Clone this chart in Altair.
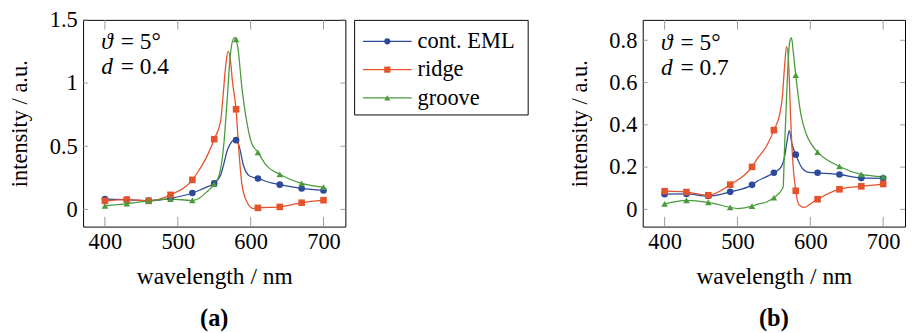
import altair as alt
import pandas as pd

SERIES = ["cont. EML", "ridge", "groove"]
COLORS = ["#2d4a9a", "#e4532b", "#4b9a3b"]
SHAPES = ["circle", "square", "triangle-up"]

# marker wavelengths (nm)
MARK_WL = [400, 430, 460, 490, 520, 550, 580, 610, 640, 670, 700]

# ---------- panel (a): d = 0.4 ----------
A_EML_MARK = [0.082, 0.077, 0.070, 0.088, 0.130, 0.206, 0.548, 0.245, 0.196, 0.166, 0.150]
A_RIDGE_MARK = [0.068, 0.078, 0.068, 0.115, 0.234, 0.556, 0.793, 0.012, 0.020, 0.053, 0.073]
A_GROOVE_MARK = [0.028, 0.045, 0.068, 0.082, 0.071, 0.200, 1.345, 0.452, 0.278, 0.206, 0.176]

A_EML_WL = [400, 430, 460, 490, 520, 528, 540, 550, 559, 565, 568, 572, 578, 584, 590, 599, 610, 625, 640, 670, 700]
A_EML_VAL = [0.082, 0.077, 0.070, 0.088, 0.130, 0.148, 0.178, 0.206, 0.275, 0.403, 0.47, 0.518, 0.552, 0.505, 0.352, 0.262, 0.245, 0.215, 0.196, 0.166, 0.150]
A_RIDGE_WL = [400, 430, 460, 490, 520, 528, 540, 550, 559, 562, 566, 569, 572, 575, 580, 584, 588, 595, 603, 610, 640, 670, 700]
A_RIDGE_VAL = [0.068, 0.078, 0.068, 0.115, 0.234, 0.300, 0.420, 0.556, 0.709, 0.888, 1.150, 1.250, 1.194, 1.015, 0.790, 0.454, 0.200, 0.058, 0.008, 0.012, 0.020, 0.053, 0.073]
A_GROOVE_WL = [400, 430, 460, 490, 520, 528, 539, 550, 557, 563, 568, 572, 577.5, 582, 588, 595, 601, 610, 621, 640, 670, 700]
A_GROOVE_VAL = [0.028, 0.045, 0.068, 0.082, 0.071, 0.084, 0.135, 0.200, 0.275, 0.505, 0.888, 1.219, 1.360, 1.296, 0.964, 0.683, 0.530, 0.452, 0.352, 0.278, 0.206, 0.176]

# ---------- panel (b): d = 0.7 ----------
B_EML_MARK = [0.072, 0.073, 0.063, 0.083, 0.116, 0.173, 0.259, 0.173, 0.165, 0.149, 0.147]
B_RIDGE_MARK = [0.086, 0.082, 0.067, 0.117, 0.201, 0.375, 0.088, 0.048, 0.095, 0.109, 0.120]
B_GROOVE_MARK = [0.026, 0.043, 0.033, 0.010, 0.015, 0.055, 0.635, 0.271, 0.203, 0.166, 0.155]

B_EML_WL = [400, 430, 460, 490, 520, 527, 540, 550, 560, 565, 568, 571, 575, 580, 589, 598, 610, 640, 670, 700]
B_EML_VAL = [0.072, 0.073, 0.063, 0.083, 0.116, 0.133, 0.155, 0.173, 0.201, 0.255, 0.320, 0.373, 0.307, 0.259, 0.194, 0.175, 0.173, 0.165, 0.149, 0.147]
B_RIDGE_WL = [400, 430, 460, 490, 520, 527, 540, 550, 558, 561.5, 564.7, 567.4, 570, 572.8, 576, 580, 584.8, 591.5, 600.5, 610, 640, 670, 700]
B_RIDGE_VAL = [0.086, 0.082, 0.067, 0.117, 0.201, 0.239, 0.300, 0.375, 0.451, 0.527, 0.679, 0.770, 0.709, 0.451, 0.224, 0.088, 0.020, 0.009, 0.027, 0.048, 0.095, 0.109, 0.120]
B_GROOVE_WL = [400, 430, 460, 490, 500, 520, 527, 540, 550, 562.6, 564.7, 568.3, 571.4, 574.1, 576.8, 580, 587, 594, 603, 610, 640, 670, 700]
B_GROOVE_VAL = [0.026, 0.043, 0.033, 0.010, 0.004, 0.015, 0.024, 0.035, 0.055, 0.103, 0.300, 0.603, 0.785, 0.812, 0.739, 0.635, 0.451, 0.360, 0.300, 0.271, 0.203, 0.166, 0.155]

X_DOMAIN = [370, 730]
X_TICKS = [400, 500, 600, 700]
A_Y_DOMAIN = [-0.136, 1.5]
A_Y_TICKS = [0, 0.5, 1, 1.5]
B_Y_DOMAIN = [-0.0815, 0.8965]
B_Y_TICKS = [0, 0.2, 0.4, 0.6, 0.8]

A_ANNOT = {"wl": 395, "theta_val": 1.27, "d_val": 1.075, "theta": "= 5°", "d": "= 0.4"}
B_ANNOT = {"wl": 395, "theta_val": 0.755, "d_val": 0.637, "theta": "= 5°", "d": "= 0.7"}

FONT = "Liberation Serif, Times New Roman, DejaVu Serif, serif"
W, H = 269, 212
LEG_W, LEG_H = 178, 97


def lines_df(wls, vals):
    rows = []
    for s, w, v in zip(SERIES, wls, vals):
        for a, b in zip(w, v):
            rows.append({"wl": a, "val": b, "series": s})
    return pd.DataFrame(rows)


def marks_df(vals):
    rows = []
    for s, v in zip(SERIES, vals):
        for a, b in zip(MARK_WL, v):
            rows.append({"wl": a, "val": b, "series": s})
    return pd.DataFrame(rows)


CS = alt.Scale(domain=SERIES, range=COLORS)
SS = alt.Scale(domain=SERIES, range=SHAPES)


def panel(ldf, mdf, ydom, yticks, ann, label):
    xs = alt.Scale(domain=X_DOMAIN, nice=False, zero=False)
    ys = alt.Scale(domain=ydom, nice=False, zero=False)
    xaxis = alt.Axis(values=X_TICKS, format="d", ticks=False, domain=False, grid=False,
                     labelFont=FONT, labelFontSize=23, labelColor="black", labelPadding=4,
                     title="wavelength / nm", titleFont=FONT, titleFontSize=24,
                     titleFontWeight="normal", titleColor="black", titlePadding=12)
    yaxis = alt.Axis(values=yticks, format="~r", ticks=False, domain=False, grid=False,
                     labelFont=FONT, labelFontSize=23, labelColor="black", labelPadding=6,
                     title="intensity / a.u.", titleFont=FONT, titleFontSize=23,
                     titleFontWeight="normal", titleColor="black", titlePadding=18)
    lines = alt.Chart(ldf).mark_line(interpolate="monotone", strokeWidth=1.3).encode(
        x=alt.X("wl:Q", scale=xs, axis=xaxis),
        y=alt.Y("val:Q", scale=ys, axis=yaxis),
        color=alt.Color("series:N", scale=CS, legend=None, sort=SERIES),
    )
    pts = alt.Chart(mdf).mark_point(filled=True, opacity=1, size=46).encode(
        x=alt.X("wl:Q"),
        y=alt.Y("val:Q"),
        color=alt.Color("series:N", scale=CS, legend=None),
        shape=alt.Shape("series:N", scale=SS, legend=None),
    )
    xt = pd.DataFrame({"wl": X_TICKS})
    yt = pd.DataFrame({"val": yticks})
    tick_color = "#9a9a9a"
    tb = alt.Chart(xt).mark_rule(color=tick_color, strokeWidth=1).encode(
        x="wl:Q", y=alt.value(H), y2=alt.value(H - 10))
    tt = alt.Chart(xt).mark_rule(color=tick_color, strokeWidth=1).encode(
        x="wl:Q", y=alt.value(0), y2=alt.value(10))
    tl = alt.Chart(yt).mark_rule(color=tick_color, strokeWidth=1).encode(
        y="val:Q", x=alt.value(0), x2=alt.value(5))
    tr = alt.Chart(yt).mark_rule(color=tick_color, strokeWidth=1).encode(
        y="val:Q", x=alt.value(W), x2=alt.value(W - 5))
    adf = pd.DataFrame([
        {"wl": ann["wl"], "val": ann["theta_val"], "sym": "ϑ", "rest": ann["theta"]},
        {"wl": ann["wl"], "val": ann["d_val"], "sym": "d", "rest": ann["d"]},
    ])
    a1 = alt.Chart(adf).mark_text(font=FONT, fontSize=24, fontStyle="italic", align="left",
                                  baseline="alphabetic", color="black").encode(
        x="wl:Q", y="val:Q", text="sym:N")
    a2 = alt.Chart(adf).mark_text(font=FONT, fontSize=24, align="left", dx=20,
                                  baseline="alphabetic", color="black").encode(
        x="wl:Q", y="val:Q", text="rest:N")
    return alt.layer(lines, pts, tb, tt, tl, tr, a1, a2).properties(
        width=W, height=H,
        title=alt.TitleParams(label, orient="bottom", font=FONT, fontSize=25,
                              fontWeight="bold", color="black", offset=19),
    )


# legend as its own small view
ldat = pd.DataFrame({"series": SERIES})
LY = alt.Y("series:N", scale=alt.Scale(type="point", domain=SERIES, range=[22, 80], padding=0), axis=None)
leg_line = alt.Chart(ldat).mark_rule(strokeWidth=1.3).encode(
    x=alt.value(9), x2=alt.value(59), y=LY,
    color=alt.Color("series:N", scale=CS, legend=None))
leg_pt = alt.Chart(ldat).mark_point(filled=True, opacity=1, size=40).encode(
    x=alt.value(34), y=LY,
    color=alt.Color("series:N", scale=CS, legend=None),
    shape=alt.Shape("series:N", scale=SS, legend=None))
leg_txt = alt.Chart(ldat).mark_text(font=FONT, fontSize=23, align="left", baseline="middle",
                                    color="black").encode(
    x=alt.value(65), y=LY, text="series:N")
legend = alt.layer(leg_line, leg_pt, leg_txt).properties(width=LEG_W, height=LEG_H)

pa = panel(lines_df([A_EML_WL, A_RIDGE_WL, A_GROOVE_WL], [A_EML_VAL, A_RIDGE_VAL, A_GROOVE_VAL]),
           marks_df([A_EML_MARK, A_RIDGE_MARK, A_GROOVE_MARK]), A_Y_DOMAIN, A_Y_TICKS, A_ANNOT, "(a)")
pb = panel(lines_df([B_EML_WL, B_RIDGE_WL, B_GROOVE_WL], [B_EML_VAL, B_RIDGE_VAL, B_GROOVE_VAL]),
           marks_df([B_EML_MARK, B_RIDGE_MARK, B_GROOVE_MARK]), B_Y_DOMAIN, B_Y_TICKS, B_ANNOT, "(b)")

left = alt.hconcat(pa, legend, spacing=9, bounds="flush")
chart = alt.hconcat(left, pb, spacing=40).properties(
    padding={"left": 0, "top": -4, "right": 0, "bottom": 0},
    background="white",
).configure_view(stroke="black", strokeWidth=1)

chart.save("out.html", embed_options={"renderer": "svg", "actions": False})
